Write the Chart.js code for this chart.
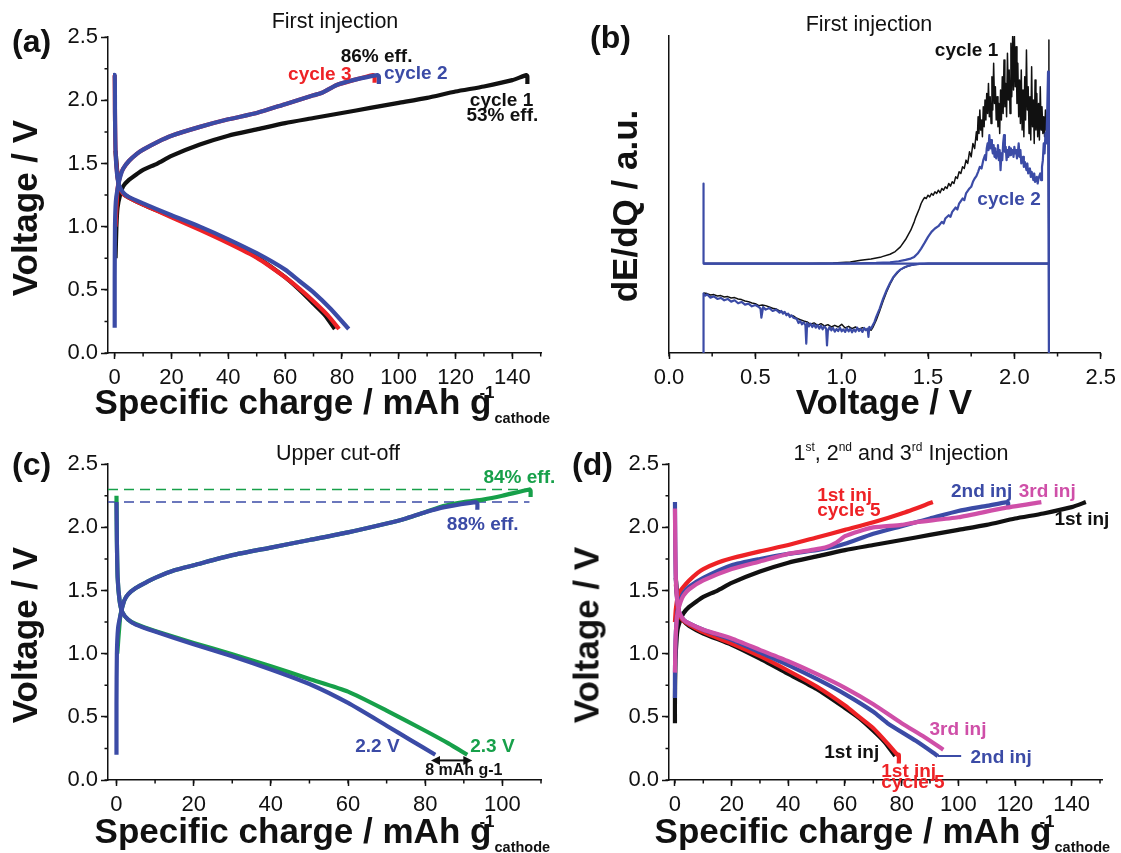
<!DOCTYPE html>
<html>
<head>
<meta charset="utf-8">
<script src="https://cdn.jsdelivr.net/npm/chart.js@4.4.1/dist/chart.umd.min.js"></script>
<style>
  html, body { margin: 0; padding: 0; background: #fff; }
  body { width: 1121px; height: 853px; position: relative; overflow: hidden;
         font-family: "Liberation Sans", Arial, sans-serif; color: #111; }
  .box { position: absolute; }
  .t { position: absolute; white-space: nowrap; line-height: 1; }
  .lab { font-weight: bold; font-size: 32px; }
  .ttl { font-size: 21.5px; transform: translateX(-50%); }
  .ax { font-weight: bold; font-size: 35px; }
  .rot { transform: translate(-50%, -50%) rotate(-90deg); }
  .mid { transform: translateX(-50%); }
  .sup { font-size: 17px; position: relative; top: -16px; margin-left: -12px; }
  .sub { font-size: 14.5px; position: relative; top: 9px; }
  .ts { font-size: 12px; position: relative; top: -9px; }
</style>
</head>
<body>
<div class="box" style="left:37.5px;top:21px"><canvas id="pa" width="523" height="372"></canvas></div>
<div class="box" style="left:599.3px;top:22px"><canvas id="pb" width="523" height="371"></canvas></div>
<div class="box" style="left:37.5px;top:447.7px"><canvas id="pc" width="523" height="372"></canvas></div>
<div class="box" style="left:599px;top:447.7px"><canvas id="pd" width="523" height="372"></canvas></div>

<div class="t lab" style="left:12px;top:25px">(a)</div>
<div class="t lab" style="left:590px;top:21px">(b)</div>
<div class="t lab" style="left:12px;top:448px">(c)</div>
<div class="t lab" style="left:572px;top:448px">(d)</div>

<div class="t ttl" style="left:335px;top:11px">First injection</div>
<div class="t ttl" style="left:869px;top:14px">First injection</div>
<div class="t ttl" style="left:338px;top:443px">Upper cut-off</div>
<div class="t ttl" style="left:901px;top:443px">1<span class="ts">st</span>, 2<span class="ts">nd</span> and 3<span class="ts">rd</span> Injection</div>

<div class="t ax rot" style="left:24px;top:207.5px">Voltage / V</div>
<div class="t ax rot" style="left:624px;top:205.5px">dE/dQ / a.u.</div>
<div class="t ax rot" style="left:24px;top:634.5px">Voltage / V</div>
<div class="t ax rot" style="left:586px;top:634.5px">Voltage / V</div>

<div class="t ax" style="left:94.6px;top:384px">Specific charge / mAh g<span class="sup">-1</span><span class="sub">cathode</span></div>
<div class="t ax mid" style="left:884px;top:384px">Voltage / V</div>
<div class="t ax" style="left:94.6px;top:812.5px">Specific charge / mAh g<span class="sup">-1</span><span class="sub">cathode</span></div>
<div class="t ax" style="left:654.6px;top:812.5px">Specific charge / mAh g<span class="sup">-1</span><span class="sub">cathode</span></div>

<script>
// Galvanostatic curves: [specific charge (mAh/g), voltage (V)]
// (a) first injection, cycles 1-3
const a_cyc1_dis = [[0.3,1.6],[1.5,1.31],[3,1.26],[5,1.23],[10,1.175],[20,1.08],[30,0.985],[40,0.88],[50,0.76],[60,0.6],[65,0.5],[70,0.39],[74,0.3],[77.5,0.19]];
const a_cyc1_chg = [[0.3,0.75],[0.6,1.0],[1,1.15],[2,1.26],[3,1.32],[5,1.37],[8,1.42],[10,1.45],[15,1.5],[20,1.56],[30,1.65],[40,1.72],[50,1.77],[60,1.82],[70,1.86],[80,1.9],[90,1.94],[100,1.98],[110,2.02],[120,2.07],[130,2.11],[140,2.16],[145,2.2],[145.3,2.19],[145.3,2.13]];
const a_cyc3_dis = [[0,2.2],[0.3,1.6],[1.5,1.32],[3,1.26],[5,1.23],[10,1.175],[20,1.075],[30,0.975],[40,0.87],[50,0.755],[60,0.6],[65,0.51],[70,0.41],[75,0.3],[79,0.19]];
const a_cyc3_chg = [[0.3,1.0],[1,1.3],[2,1.41],[3,1.46],[5,1.52],[8,1.58],[10,1.61],[15,1.67],[20,1.72],[30,1.79],[40,1.85],[50,1.9],[60,1.97],[70,2.04],[73,2.06],[78,2.12],[84,2.16],[91,2.2],[91.5,2.19],[91.5,2.14]];
const a_cyc2_dis = [[-0.6,2.2],[0,2.2],[0.1,1.9],[0.3,1.6],[0.8,1.42],[1.5,1.33],[3,1.27],[5,1.235],[10,1.185],[20,1.09],[30,1.0],[40,0.9],[50,0.79],[60,0.66],[65,0.57],[70,0.48],[76,0.35],[82.4,0.19]];
const a_cyc2_chg = [[0,0.2],[0,0.6],[0.1,1.0],[0.4,1.2],[1,1.3],[2,1.4],[3,1.46],[5,1.52],[8,1.58],[10,1.61],[15,1.67],[20,1.72],[30,1.79],[40,1.85],[50,1.9],[60,1.97],[70,2.04],[73,2.06],[78,2.12],[84,2.16],[92.5,2.2],[93,2.19],[93,2.13]];

// (b) dE/dQ vs voltage: [voltage (V), dE/dQ (a.u.)]
const b_cyc1_dis = [[2.2,0],[1.5,0],[1.42,-0.03],[1.38,-0.08],[1.34,-0.18],[1.3,-0.42],[1.28,-0.62],[1.26,-0.85],[1.24,-1.12],[1.22,-1.42],[1.2,-1.7],[1.18,-1.92],[1.17,-2.0],[1.16,-1.95],[1.14,-1.98],[1.12,-1.92],[1.1,-1.97],[1.08,-1.9],[1.06,-1.95],[1.04,-1.88],[1.02,-1.93],[1.0,-1.82],[0.98,-1.9],[0.96,-1.85],[0.94,-1.9],[0.92,-1.83],[0.9,-1.87],[0.88,-1.8],[0.86,-1.85],[0.84,-1.78],[0.82,-1.82],[0.8,-1.75],[0.78,-1.72],[0.76,-1.68],[0.74,-1.64],[0.72,-1.57],[0.7,-1.55],[0.68,-1.5],[0.66,-1.46],[0.64,-1.42],[0.62,-1.36],[0.6,-1.34],[0.58,-1.3],[0.56,-1.26],[0.54,-1.24],[0.52,-1.26],[0.5,-1.2],[0.48,-1.18],[0.46,-1.14],[0.44,-1.12],[0.42,-1.08],[0.4,-1.06],[0.38,-1.02],[0.36,-1.03],[0.34,-0.99],[0.32,-1.0],[0.3,-0.96],[0.28,-0.97],[0.26,-0.93],[0.24,-0.94],[0.22,-0.9],[0.2,-0.88]];
const b_cyc1_chg = [[0.2,0],[0.8,0],[0.95,0.02],[1.05,0.05],[1.11,0.1],[1.17,0.14],[1.23,0.2],[1.28,0.28],[1.31,0.36],[1.34,0.5],[1.37,0.72],[1.4,1.0],[1.42,1.25],[1.43,1.4],[1.45,1.65],[1.46,1.8],[1.47,1.9],[1.48,1.98],[1.49,1.95],[1.5,2.05],[1.51,2.0],[1.52,2.1],[1.53,2.05],[1.54,2.15],[1.55,2.1],[1.56,2.2],[1.57,2.12],[1.58,2.25],[1.59,2.2],[1.6,2.3],[1.61,2.25],[1.62,2.4],[1.63,2.32],[1.64,2.45],[1.65,2.4],[1.66,2.6],[1.67,2.55],[1.68,2.75],[1.69,2.7],[1.7,2.9],[1.71,2.85],[1.72,3.1],[1.73,3.0],[1.74,3.35],[1.75,3.2],[1.76,3.6],[1.77,3.45],[1.78,3.95],[1.785,3.7],[1.79,4.4],[1.795,3.9],[1.8,4.6],[1.805,4.0],[1.81,4.3],[1.815,3.8],[1.82,4.7],[1.825,4.1],[1.83,4.9],[1.835,4.3],[1.84,5.1],[1.845,4.5],[1.85,5.4],[1.855,4.4],[1.86,5.0],[1.865,4.2],[1.87,5.6],[1.875,4.6],[1.88,6.0],[1.885,4.8],[1.89,5.3],[1.895,4.3],[1.9,5.0],[1.905,4.1],[1.91,4.8],[1.915,3.9],[1.92,5.2],[1.925,4.3],[1.93,5.6],[1.935,4.5],[1.94,6.1],[1.945,4.7],[1.95,5.4],[1.955,4.4],[1.96,6.3],[1.965,4.9],[1.97,5.8],[1.975,4.5],[1.98,6.6],[1.985,5.0],[1.99,6.8],[1.995,5.2],[2.0,6.9],[2.005,5.3],[2.01,6.5],[2.015,4.8],[2.02,6.0],[2.025,4.4],[2.03,5.5],[2.035,4.2],[2.04,5.8],[2.045,4.0],[2.05,5.2],[2.055,3.8],[2.06,5.6],[2.065,4.3],[2.07,6.4],[2.075,4.6],[2.08,5.3],[2.085,3.9],[2.09,5.0],[2.095,3.7],[2.1,5.9],[2.105,4.1],[2.11,4.9],[2.115,3.6],[2.12,5.5],[2.125,4.0],[2.13,5.1],[2.135,3.8],[2.14,4.8],[2.145,3.7],[2.15,5.3],[2.155,4.0],[2.16,4.7],[2.165,3.9],[2.17,4.4],[2.175,3.8],[2.18,4.6],[2.185,4.0],[2.19,4.3],[2.195,4.8],[2.2,6.7],[2.2,0]];
const b_cyc2_dis = [[2.2,0],[1.5,0],[1.45,-0.01],[1.42,-0.03],[1.4,-0.05],[1.38,-0.08],[1.36,-0.12],[1.34,-0.18],[1.32,-0.27],[1.3,-0.4],[1.28,-0.58],[1.26,-0.8],[1.24,-1.05],[1.22,-1.35],[1.2,-1.6],[1.19,-1.75],[1.18,-1.85],[1.17,-1.95],[1.16,-1.9],[1.155,-2.2],[1.15,-1.95],[1.14,-2.0],[1.13,-1.93],[1.12,-2.05],[1.11,-1.96],[1.1,-2.02],[1.09,-1.92],[1.08,-2.04],[1.07,-1.97],[1.06,-2.06],[1.05,-1.95],[1.04,-2.03],[1.03,-1.94],[1.02,-2.05],[1.01,-1.97],[1.0,-2.03],[0.99,-1.92],[0.98,-2.02],[0.97,-1.96],[0.96,-2.04],[0.95,-1.93],[0.94,-2.0],[0.93,-1.9],[0.92,-2.02],[0.915,-2.45],[0.91,-1.95],[0.9,-1.88],[0.89,-1.97],[0.88,-1.86],[0.87,-1.95],[0.86,-1.84],[0.85,-1.92],[0.84,-1.82],[0.83,-1.9],[0.82,-1.8],[0.81,-1.88],[0.8,-1.78],[0.795,-2.4],[0.79,-1.85],[0.78,-1.76],[0.77,-1.82],[0.76,-1.72],[0.75,-1.78],[0.74,-1.66],[0.72,-1.62],[0.71,-1.55],[0.7,-1.6],[0.69,-1.5],[0.68,-1.55],[0.67,-1.45],[0.66,-1.5],[0.65,-1.42],[0.64,-1.47],[0.62,-1.38],[0.6,-1.42],[0.58,-1.33],[0.56,-1.38],[0.545,-1.3],[0.535,-1.62],[0.53,-1.35],[0.52,-1.3],[0.5,-1.24],[0.48,-1.28],[0.46,-1.2],[0.44,-1.23],[0.42,-1.15],[0.4,-1.19],[0.38,-1.1],[0.36,-1.14],[0.34,-1.06],[0.32,-1.1],[0.3,-1.03],[0.28,-1.06],[0.26,-0.98],[0.24,-1.02],[0.22,-0.92],[0.21,-0.96],[0.2,-0.9],[0.2,-2.8]];
const b_cyc2_chg = [[0.2,2.4],[0.2,0],[0.9,0],[1.1,0.01],[1.2,0.02],[1.28,0.04],[1.33,0.07],[1.37,0.11],[1.4,0.15],[1.42,0.2],[1.44,0.3],[1.46,0.45],[1.48,0.62],[1.5,0.8],[1.52,0.95],[1.54,1.05],[1.56,1.12],[1.58,1.25],[1.59,1.2],[1.6,1.35],[1.62,1.45],[1.63,1.4],[1.64,1.55],[1.66,1.68],[1.67,1.62],[1.68,1.8],[1.7,1.95],[1.71,1.9],[1.72,2.1],[1.74,2.25],[1.75,2.3],[1.76,2.45],[1.77,2.55],[1.78,2.62],[1.79,2.75],[1.8,2.9],[1.81,2.85],[1.82,3.1],[1.83,3.25],[1.835,3.1],[1.84,3.45],[1.845,3.6],[1.85,3.4],[1.855,3.85],[1.86,3.45],[1.865,3.7],[1.87,3.5],[1.875,3.3],[1.88,3.55],[1.885,3.2],[1.89,3.45],[1.895,3.15],[1.9,3.35],[1.905,3.55],[1.91,3.1],[1.915,3.4],[1.92,2.8],[1.925,3.3],[1.93,3.1],[1.935,3.6],[1.94,3.85],[1.945,3.35],[1.95,3.5],[1.955,3.1],[1.96,3.4],[1.965,3.2],[1.97,3.5],[1.975,3.25],[1.98,3.45],[1.985,3.3],[1.99,3.4],[1.995,3.2],[2.0,3.5],[2.005,3.3],[2.01,3.4],[2.015,3.15],[2.02,3.3],[2.025,3.6],[2.03,3.2],[2.035,3.4],[2.04,3.0],[2.05,3.2],[2.055,2.9],[2.06,3.05],[2.07,2.8],[2.075,3.0],[2.08,2.7],[2.09,2.85],[2.095,2.6],[2.1,2.75],[2.11,2.5],[2.115,2.7],[2.12,2.45],[2.13,2.6],[2.135,2.4],[2.14,2.55],[2.15,2.7],[2.155,2.5],[2.16,2.9],[2.165,3.1],[2.17,3.6],[2.175,3.3],[2.18,3.9],[2.185,3.6],[2.19,4.5],[2.195,5.75],[2.2,5.75],[2.2,-2.8]];
const b_baseline = [[0.2,0],[2.2,0]];

// (c) upper cut-off 2.2 V vs 2.3 V
const c_23_dis = [[0,2.25],[0.1,1.9],[0.3,1.6],[0.8,1.42],[1.5,1.33],[3,1.27],[5,1.235],[10,1.18],[20,1.085],[30,0.995],[40,0.9],[50,0.8],[60,0.7],[70,0.55],[80,0.39],[86,0.29],[90.9,0.2]];
const c_23_chg = [[0.2,1.0],[1,1.3],[2,1.42],[3,1.47],[5,1.52],[8,1.57],[10,1.6],[15,1.66],[20,1.7],[30,1.78],[40,1.84],[50,1.9],[60,1.96],[70,2.03],[75,2.07],[80,2.12],[85,2.17],[90,2.2],[95,2.22],[100,2.25],[107,2.3],[107.3,2.29],[107.3,2.24]];
const c_22_dis = [[0,2.2],[0.1,1.9],[0.3,1.6],[0.8,1.42],[1.5,1.33],[3,1.27],[5,1.23],[10,1.175],[20,1.075],[30,0.98],[40,0.875],[50,0.76],[60,0.61],[70,0.43],[76,0.32],[82.6,0.2]];
const c_22_chg = [[0,0.2],[0,0.6],[0.1,1.0],[0.4,1.2],[1,1.3],[2,1.42],[3,1.47],[5,1.52],[8,1.57],[10,1.6],[15,1.66],[20,1.7],[30,1.78],[40,1.84],[50,1.9],[60,1.96],[70,2.03],[75,2.07],[80,2.12],[85,2.16],[93,2.2],[93.5,2.19],[93.5,2.14]];
const c_cut23 = [[-2.2,2.3],[107,2.3]];
const c_cut22 = [[-2.2,2.2],[107,2.2]];

// (d) 1st, 2nd and 3rd injection
const d_inj1_dis = [[0.3,1.6],[1.5,1.31],[3,1.26],[5,1.22],[10,1.16],[20,1.07],[30,0.96],[40,0.84],[50,0.72],[60,0.57],[65,0.49],[70,0.39],[74,0.3],[77.7,0.19]];
const d_inj1_chg = [[0,0.45],[0,0.65],[0.2,0.95],[0.6,1.12],[1,1.2],[2,1.27],[3,1.32],[5,1.37],[8,1.42],[10,1.45],[15,1.5],[20,1.56],[30,1.65],[40,1.72],[50,1.77],[60,1.82],[70,1.86],[80,1.9],[90,1.94],[100,1.98],[110,2.02],[120,2.07],[130,2.11],[140,2.16],[145,2.2]];
const d_c5_dis = [[0.3,1.55],[1.5,1.31],[3,1.26],[5,1.23],[10,1.17],[20,1.08],[30,0.98],[40,0.865],[50,0.74],[60,0.59],[65,0.5],[70,0.41],[75,0.29],[78.5,0.2],[79,0.2],[79,0.13]];
const d_c5_chg = [[0,1.25],[0.3,1.35],[1,1.45],[2,1.5],[3,1.53],[5,1.58],[8,1.64],[10,1.67],[15,1.72],[20,1.755],[30,1.81],[40,1.86],[50,1.92],[60,1.98],[70,2.04],[80,2.11],[91,2.2]];
const d_inj2_dis = [[0,2.2],[0.1,1.9],[0.3,1.6],[0.8,1.42],[1.5,1.33],[3,1.27],[5,1.24],[10,1.19],[20,1.11],[30,1.01],[40,0.91],[50,0.8],[60,0.68],[70,0.54],[75,0.45],[85,0.31],[92.8,0.19]];
const d_inj2_chg = [[0,0.65],[0,0.85],[0.2,1.1],[0.6,1.27],[1,1.35],[2,1.43],[3,1.48],[5,1.53],[10,1.6],[20,1.7],[30,1.75],[40,1.79],[50,1.82],[55,1.84],[60,1.87],[70,1.95],[80,2.01],[85,2.04],[90,2.07],[100,2.13],[110,2.17],[117.4,2.2],[117.6,2.19],[117.6,2.15]];
const d_inj2_lead = [[92.8,0.19],[101,0.19]];
const d_inj3_dis = [[0,2.15],[0.1,1.9],[0.3,1.6],[0.8,1.42],[1.5,1.33],[3,1.27],[5,1.24],[10,1.19],[20,1.12],[30,1.03],[40,0.94],[50,0.84],[60,0.73],[70,0.6],[80,0.45],[88,0.34],[94.7,0.24]];
const d_inj3_chg = [[0,0.85],[0.2,1.1],[0.6,1.26],[1,1.33],[2,1.41],[3,1.46],[5,1.51],[10,1.58],[20,1.67],[30,1.73],[40,1.79],[48,1.82],[53,1.84],[57,1.88],[60,1.93],[65,1.97],[70,2.0],[80,2.02],[85,2.04],[100,2.08],[115.5,2.15],[129.3,2.2]];

const BLACK = "#111111";
const RED = "#ee2226";
const BLUE = "#3b4ba6";
const GREEN = "#17a04a";
const PINK = "#cf4fa8";
const FONT = '"Liberation Sans", Arial, sans-serif';
const LW = 4.2; // charge/discharge stroke

const pts = (a) => a.map((p) => ({ x: p[0], y: p[1] }));

function curve(data, color, width, extra) {
  return Object.assign(
    { data: pts(data), borderColor: color, backgroundColor: color, borderWidth: width, pointRadius: 0,
      showLine: true, tension: 0.2, borderJoinStyle: "round", fill: false },
    extra || {}
  );
}

function xScale(min, max, step, fmt) {
  return {
    type: "linear", position: "bottom", min, max,
    afterFit: (s) => { s.height = 40; },
    border: { color: BLACK, width: 1.5 },
    grid: { drawOnChartArea: false, drawTicks: true, tickLength: 6, tickColor: BLACK, tickWidth: 1.5 },
    ticks: { stepSize: step, includeBounds: false, autoSkip: false, maxRotation: 0, padding: 6,
             color: BLACK, font: { family: FONT, size: 22 }, callback: fmt },
  };
}

function yScale(min, max, step) {
  return {
    type: "linear", position: "left", min, max,
    afterFit: (s) => { s.width = 70; },
    border: { color: BLACK, width: 1.5 },
    grid: { drawOnChartArea: false, drawTicks: true, tickLength: 7, tickColor: BLACK, tickWidth: 1.5 },
    ticks: { stepSize: step, includeBounds: false, padding: 3,
             color: BLACK, font: { family: FONT, size: 22 }, callback: (v) => v.toFixed(1) },
  };
}

// short unlabeled ticks halfway between the major ones
function minorTicks(xStep, yStep) {
  return {
    id: "minorTicks",
    afterDraw(chart) {
      const { ctx, chartArea: ca, scales } = chart;
      ctx.save();
      ctx.strokeStyle = BLACK;
      ctx.lineWidth = 1.5;
      ctx.beginPath();
      if (xStep) {
        const s = scales.x;
        for (let i = Math.ceil(s.min / xStep); i * xStep <= s.max + 1e-9; i++) {
          const p = s.getPixelForValue(i * xStep);
          ctx.moveTo(p, ca.bottom); ctx.lineTo(p, ca.bottom + 3.5);
        }
      }
      if (yStep) {
        const s = scales.y;
        for (let i = Math.ceil(s.min / yStep); i * yStep <= s.max + 1e-9; i++) {
          const p = s.getPixelForValue(i * yStep);
          ctx.moveTo(ca.left, p); ctx.lineTo(ca.left - 3.5, p);
        }
      }
      ctx.stroke();
      ctx.restore();
    },
  };
}

// in-plot labels placed in data coordinates
function notes(items) {
  return {
    id: "notes",
    afterDraw(chart) {
      const { ctx, scales } = chart;
      ctx.save();
      ctx.textBaseline = "middle";
      for (const n of items) {
        ctx.font = `bold ${n.size || 19}px ${FONT}`;
        ctx.fillStyle = n.color;
        ctx.textAlign = n.align || "center";
        ctx.fillText(n.text, scales.x.getPixelForValue(n.x), scales.y.getPixelForValue(n.y));
      }
      ctx.restore();
    },
  };
}

// the "8 mAh g-1" double arrow in (c)
const doubleArrow = (x0, x1, v) => ({
  id: "doubleArrow",
  afterDraw(chart) {
    const { ctx, scales } = chart;
    const a = scales.x.getPixelForValue(x0), b = scales.x.getPixelForValue(x1), y = scales.y.getPixelForValue(v);
    ctx.save();
    ctx.strokeStyle = BLACK; ctx.fillStyle = BLACK; ctx.lineWidth = 2;
    ctx.beginPath(); ctx.moveTo(a + 6, y); ctx.lineTo(b - 6, y); ctx.stroke();
    ctx.beginPath(); ctx.moveTo(a, y); ctx.lineTo(a + 9, y - 4.5); ctx.lineTo(a + 9, y + 4.5); ctx.closePath(); ctx.fill();
    ctx.beginPath(); ctx.moveTo(b, y); ctx.lineTo(b - 9, y - 4.5); ctx.lineTo(b - 9, y + 4.5); ctx.closePath(); ctx.fill();
    ctx.restore();
  },
});

function makeChart(id, datasets, scales, plugins) {
  // list is bottom-to-top; Chart.js draws higher "order" first
  datasets.forEach((d, i) => { d.order = datasets.length - i; });
  return new Chart(document.getElementById(id), {
    type: "scatter",
    data: { datasets },
    options: {
      responsive: false,
      animation: false,
      layout: { padding: { top: 14, right: 20, left: 0, bottom: 0 } },
      scales,
      plugins: { legend: { display: false }, tooltip: { enabled: false } },
    },
    plugins,
  });
}

const intFmt = (v) => String(Math.round(v));
const oneDec = (v) => v.toFixed(1);

// (a)
makeChart("pa", [
  curve(a_cyc1_dis, BLACK, LW), curve(a_cyc1_chg, BLACK, LW),
  curve(a_cyc3_dis, RED, LW), curve(a_cyc3_chg, RED, LW),
  curve(a_cyc2_dis, BLUE, LW), curve(a_cyc2_chg, BLUE, LW),
], { x: xScale(-2.36, 150.1, 20, intFmt), y: yScale(0, 2.5, 0.5) }, [
  minorTicks(10, 0.25),
  notes([
    { x: 92.2, y: 2.344, text: "86% eff.", color: BLACK },
    { x: 72.2, y: 2.206, text: "cycle 3", color: RED },
    { x: 106, y: 2.213, text: "cycle 2", color: BLUE },
    { x: 136.2, y: 2.0, text: "cycle 1", color: BLACK },
    { x: 136.5, y: 1.876, text: "53% eff.", color: BLACK },
  ]),
]);

// (b)
const bY = yScale(-2.68, 6.82, 1);
bY.ticks.display = false;
bY.grid = { display: false };
makeChart("pb", [
  curve(b_cyc1_dis, BLACK, 1.5, { tension: 0 }), curve(b_cyc1_chg, BLACK, 1.5, { tension: 0 }),
  curve(b_baseline, BLUE, 2.2, { tension: 0 }),
  curve(b_cyc2_dis, BLUE, 2.2, { tension: 0 }), curve(b_cyc2_chg, BLUE, 2.2, { tension: 0 }),
], { x: xScale(0, 2.5, 0.5, oneDec), y: bY }, [
  minorTicks(0.25, 0),
  notes([
    { x: 1.723, y: 6.385, text: "cycle 1", color: BLACK },
    { x: 1.969, y: 1.9, text: "cycle 2", color: BLUE },
  ]),
]);

// (c)
makeChart("pc", [
  curve(c_cut23, GREEN, 1.5, { tension: 0, borderDash: [10, 6] }),
  curve(c_cut22, BLUE, 1.5, { tension: 0, borderDash: [10, 6] }),
  curve(c_23_dis, GREEN, LW), curve(c_23_chg, GREEN, LW),
  curve(c_22_dis, BLUE, LW), curve(c_22_chg, BLUE, LW),
], { x: xScale(-2.2, 110.0, 20, intFmt), y: yScale(0, 2.5, 0.5) }, [
  minorTicks(10, 0.25),
  doubleArrow(81.5, 92.2, 0.155),
  notes([
    { x: 104.4, y: 2.392, text: "84% eff.", color: GREEN },
    { x: 94.9, y: 2.024, text: "88% eff.", color: BLUE },
    { x: 67.6, y: 0.265, text: "2.2 V", color: BLUE },
    { x: 97.4, y: 0.265, text: "2.3 V", color: GREEN },
    { x: 90.0, y: 0.073, text: "8 mAh g-1", color: BLACK, size: 16 },
  ]),
]);

// (d)
makeChart("pd", [
  curve(d_inj1_dis, BLACK, LW), curve(d_inj1_chg, BLACK, LW),
  curve(d_c5_dis, RED, LW), curve(d_c5_chg, RED, LW),
  curve(d_inj2_lead, BLUE, 1.8, { tension: 0 }),
  curve(d_inj2_dis, BLUE, LW), curve(d_inj2_chg, BLUE, LW),
  curve(d_inj3_dis, PINK, LW), curve(d_inj3_chg, PINK, LW),
], { x: xScale(-2.1, 150.7, 20, intFmt), y: yScale(0, 2.5, 0.5) }, [
  minorTicks(10, 0.25),
  notes([
    { x: 50.2, y: 2.252, text: "1st inj", color: RED, align: "left" },
    { x: 50.2, y: 2.134, text: "cycle 5", color: RED, align: "left" },
    { x: 97.4, y: 2.284, text: "2nd inj", color: BLUE, align: "left" },
    { x: 121.3, y: 2.284, text: "3rd inj", color: PINK, align: "left" },
    { x: 133.9, y: 2.061, text: "1st inj", color: BLACK, align: "left" },
    { x: 89.8, y: 0.395, text: "3rd inj", color: PINK, align: "left" },
    { x: 104.3, y: 0.173, text: "2nd inj", color: BLUE, align: "left" },
    { x: 52.7, y: 0.212, text: "1st inj", color: BLACK, align: "left" },
    { x: 72.8, y: 0.068, text: "1st inj", color: RED, align: "left" },
    { x: 72.8, y: -0.024, text: "cycle 5", color: RED, align: "left" },
  ]),
]);
</script>
</body>
</html>
